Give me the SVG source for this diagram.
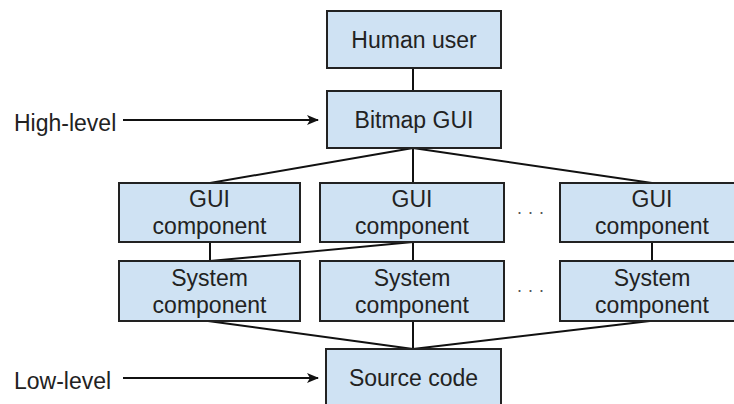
<svg xmlns="http://www.w3.org/2000/svg" width="734" height="404" viewBox="0 0 734 404">
<style>
.box{fill:#cfe2f3;stroke:#222;stroke-width:2}
.t{font-family:"Liberation Sans",Arial,sans-serif;font-size:23px;fill:#222;text-anchor:middle}
.l{font-family:"Liberation Sans",Arial,sans-serif;font-size:23px;fill:#222}
.c{stroke:#111;stroke-width:2;fill:none}
.d{font-family:"Liberation Sans",Arial,sans-serif;font-size:18px;fill:#555;text-anchor:middle}
</style>
<defs>
<marker id="ah" markerWidth="12" markerHeight="10" refX="11" refY="5" orient="auto" markerUnits="userSpaceOnUse">
<path d="M0,0 L12,5 L0,10 L3,5 Z" fill="#111"/>
</marker>
</defs>
<g id="connectors">
<line class="c" x1="413" y1="68" x2="413" y2="91"/>
<line class="c" x1="413" y1="148" x2="210" y2="183"/>
<line class="c" x1="413" y1="148" x2="413" y2="183"/>
<line class="c" x1="413" y1="148" x2="652" y2="183"/>
<line class="c" x1="210" y1="242" x2="210" y2="261"/>
<line class="c" x1="413" y1="242" x2="210" y2="261"/>
<line class="c" x1="413" y1="242" x2="413" y2="261"/>
<line class="c" x1="652" y1="242" x2="652" y2="261"/>
<line class="c" x1="208" y1="321" x2="413" y2="349"/>
<line class="c" x1="413" y1="321" x2="413" y2="349"/>
<line class="c" x1="650" y1="321" x2="413" y2="349"/>
<line class="c" x1="123" y1="120" x2="318" y2="120" marker-end="url(#ah)"/>
<line class="c" x1="123" y1="378" x2="318" y2="378" marker-end="url(#ah)"/>
</g>
<g id="human-user"><rect class="box" x="327" y="11" width="174" height="57"/><text class="t" x="414" y="48">Human user</text></g>
<g id="bitmap-gui"><rect class="box" x="327" y="91" width="174" height="57"/><text class="t" x="414" y="128">Bitmap GUI</text></g>
<g id="gui-component-1"><rect class="box" x="119" y="183" width="181" height="59"/><text class="t" x="209.5" y="207">GUI</text><text class="t" x="209.5" y="234">component</text></g>
<g id="gui-component-2"><rect class="box" x="320" y="183" width="184" height="59"/><text class="t" x="412" y="207">GUI</text><text class="t" x="412" y="234">component</text></g>
<g id="gui-component-3"><rect class="box" x="560" y="183" width="184" height="59"/><text class="t" x="652" y="207">GUI</text><text class="t" x="652" y="234">component</text></g>
<g id="system-component-1"><rect class="box" x="119" y="261" width="181" height="60"/><text class="t" x="209.5" y="286">System</text><text class="t" x="209.5" y="313">component</text></g>
<g id="system-component-2"><rect class="box" x="320" y="261" width="184" height="60"/><text class="t" x="412" y="286">System</text><text class="t" x="412" y="313">component</text></g>
<g id="system-component-3"><rect class="box" x="560" y="261" width="184" height="60"/><text class="t" x="652" y="286">System</text><text class="t" x="652" y="313">component</text></g>
<g id="source-code"><rect class="box" x="326" y="349" width="175" height="58"/><text class="t" x="413.5" y="386">Source code</text></g>
<g id="labels">
<text class="l" x="14" y="131">High-level</text>
<text class="l" x="14" y="389">Low-level</text>
<text class="d" x="530.5" y="218">· · ·</text>
<text class="d" x="530.5" y="296">· · ·</text>
</g>
</svg>
